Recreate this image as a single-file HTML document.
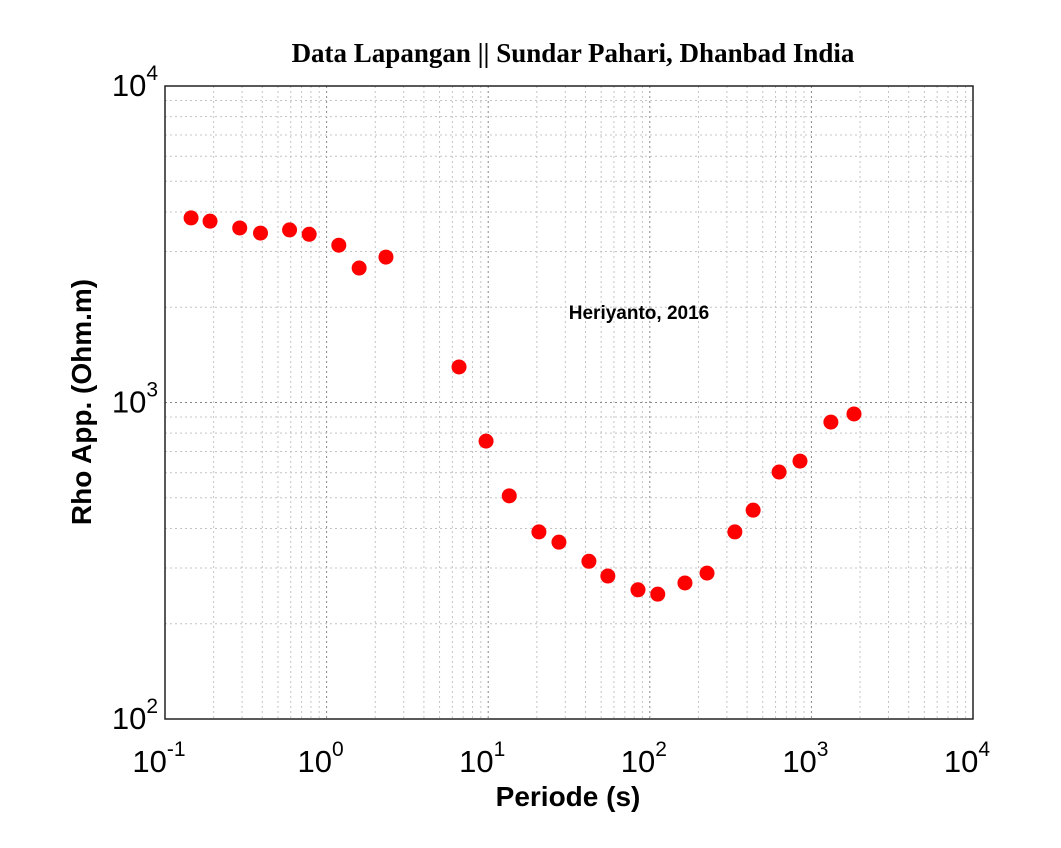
<!DOCTYPE html>
<html><head><meta charset="utf-8"><style>
html,body{margin:0;padding:0;background:#fff;}
svg{display:block;font-family:"Liberation Sans",sans-serif;}
</style></head><body>
<svg id="chart" width="1061" height="848">
<text x="573" y="62" text-anchor="middle" font-family="Liberation Serif" font-weight="bold" font-size="27">Data Lapangan || Sundar Pahari, Dhanbad India</text>
<g id="grid"></g>
<rect x="165" y="86" width="808" height="633" fill="none" stroke="#222" stroke-width="1.5"/>
<g id="ticks"></g>
<g id="points"></g>
<text x="639" y="319" text-anchor="middle" font-weight="bold" font-size="19">Heriyanto, 2016</text>
<text x="568" y="806" text-anchor="middle" font-weight="bold" font-size="28">Periode (s)</text>
<text transform="translate(91,402) rotate(-90)" text-anchor="middle" font-weight="bold" font-size="28">Rho App. (Ohm.m)</text>
</svg>
<script>
const periods=[0.145,0.19,0.29,0.39,0.59,0.78,1.19,1.59,2.33,6.6,9.7,13.5,20.6,27.4,42,55,84.5,112,165,226,336,436,631,850,1320,1835];
const rho=[3830,3740,3560,3430,3510,3400,3140,2660,2880,1295,755,507,390,362,315,283,256,248,269,289,390,457,603,653,867,920];
const xDecades=[-1,0,1,2,3,4];
const yDecades=[2,3,4];
const L=165,R=973,T=86,B=719;
const sx=v=>L+(Math.log10(v)+1)/5*(R-L);
const sy=v=>B-(Math.log10(v)-2)/2*(B-T);
const NS="http://www.w3.org/2000/svg";
function mk(t,a,p){const e=document.createElementNS(NS,t);for(const k in a)e.setAttribute(k,a[k]);p.appendChild(e);return e;}
const grid=document.getElementById('grid'),ticks=document.getElementById('ticks'),pts=document.getElementById('points');
for(let d=-1;d<4;d++)for(let m=1;m<10;m++){const x=sx(m*Math.pow(10,d));
 const l=mk('line',{x1:x,x2:x,y1:T,y2:B,stroke:m==1?'#888':'#c4c4c4','stroke-width':1,'stroke-dasharray':'2,3'},grid);
 
 }
for(let d=2;d<4;d++)for(let m=1;m<10;m++){const y=sy(m*Math.pow(10,d));
 const l=mk('line',{x1:L,x2:R,y1:y,y2:y,stroke:m==1?'#888':'#c4c4c4','stroke-width':1,'stroke-dasharray':'2,3'},grid);
 
 }
xDecades.forEach(d=>{const x=sx(Math.pow(10,d));
 const t=mk('text',{x:x-6,y:772,'text-anchor':'middle','font-size':31},ticks);
 t.innerHTML='10<tspan dy="-16" font-size="21">'+d+'</tspan>';
 
 });
yDecades.forEach(d=>{const y=sy(Math.pow(10,d));
 const t=mk('text',{x:135,y:y+10,'text-anchor':'middle','font-size':31},ticks);
 t.innerHTML='10<tspan dy="-16" font-size="21">'+d+'</tspan>';
 
 });
periods.forEach((p,i)=>{
 const c=mk('circle',{cx:sx(p),cy:sy(rho[i]),r:7.5,fill:'#f00'},pts);
 
 });
</script>
</body></html>
